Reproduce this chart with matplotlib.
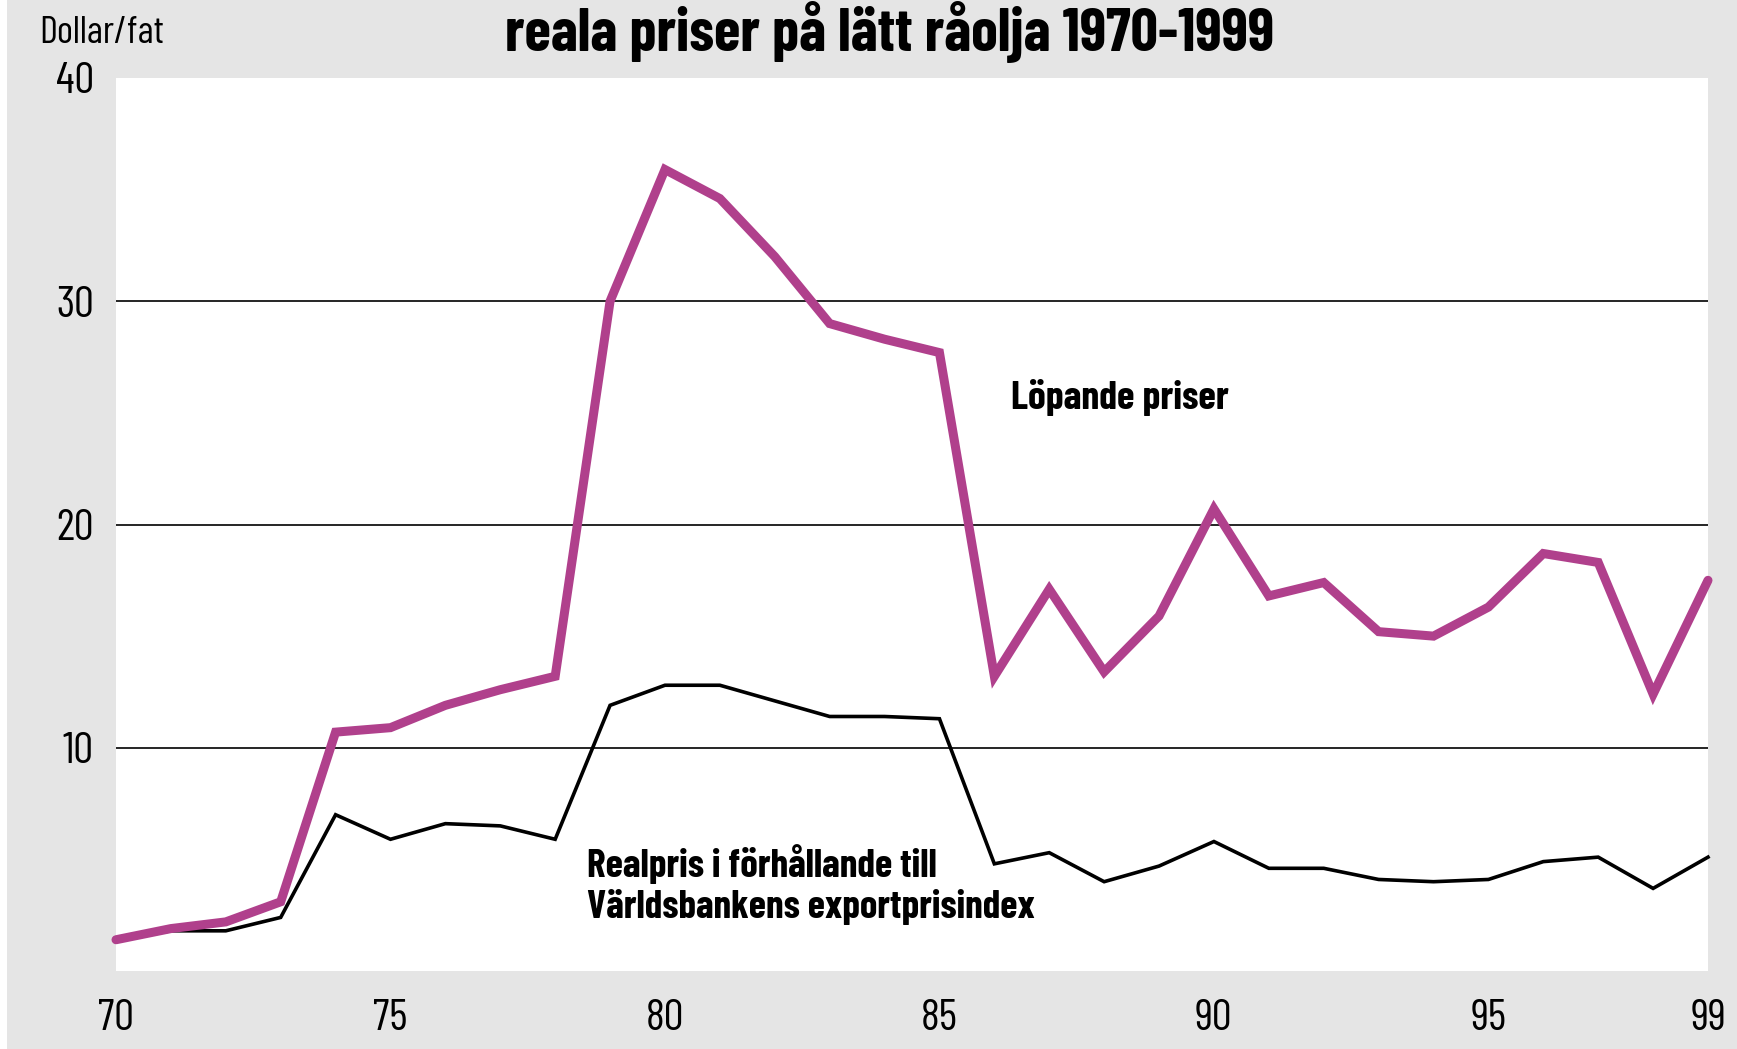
import matplotlib
matplotlib.use("Agg")
import matplotlib.pyplot as plt
from matplotlib.patches import Rectangle

years = list(range(1970, 2000))
lopande = [1.4, 1.9, 2.2, 3.1, 10.7, 10.9, 11.9, 12.6, 13.2, 30.0,
           35.9, 34.6, 32.0, 29.0, 28.3, 27.7, 13.2, 17.1, 13.4, 15.9,
           20.7, 16.8, 17.4, 15.2, 15.0, 16.3, 18.7, 18.3, 12.4, 17.5]
realpris = [1.4, 1.8, 1.8, 2.4, 7.0, 5.9, 6.6, 6.5, 5.9, 11.9,
            12.8, 12.8, 12.1, 11.4, 11.4, 11.3, 4.8, 5.3, 4.0, 4.7,
            5.8, 4.6, 4.6, 4.1, 4.0, 4.1, 4.9, 5.1, 3.7, 5.1]
xticks = [1970, 1975, 1980, 1985, 1990, 1995, 1999]
xticklabels = ["70", "75", "80", "85", "90", "95", "99"]
yticks = [10, 20, 30, 40]

FONT = ['Barlow Condensed', 'DejaVu Sans']
plt.rcParams['font.family'] = FONT

W, H = 1737, 1049
fig = plt.figure(figsize=(W / 100, H / 100), dpi=100, facecolor='#e5e5e5')
fig.patches.append(Rectangle((0, 0), 7 / W, 1, transform=fig.transFigure,
                             facecolor='white', edgecolor='none', zorder=0))

ax = fig.add_axes([116 / W, 1 - 971 / H, (1708 - 116) / W, (971 - 78) / H])
ax.set_facecolor('white')
ax.set_xlim(1970.2, 1998.95)
ax.set_ylim(0, 40)
for s in ax.spines.values():
    s.set_visible(False)

for y in [10, 20, 30]:
    ax.axhline(y, color='black', lw=1.2, zorder=1)

ax.plot(years, realpris, color='black', lw=2.6, zorder=3, clip_on=False,
        solid_joinstyle='miter')
ax.plot(years, lopande, color='#b0408c', lw=6.5, zorder=4, clip_on=False,
        solid_capstyle='round', solid_joinstyle='miter')

ax.set_xticks(xticks)
ax.set_xticklabels(xticklabels, fontsize=32, fontweight='normal')
ax.set_yticks(yticks)
ax.set_yticklabels([str(v) for v in yticks], fontsize=32, fontweight='normal')
ax.tick_params(axis='both', length=0, colors='black')
ax.tick_params(axis='x', pad=20)
ax.tick_params(axis='y', pad=16)

fig.canvas.draw()
renderer = fig.canvas.get_renderer()


def fit(t, target_w):
    bb = t.get_window_extent(renderer)
    t.set_fontsize(t.get_fontsize() * target_w / bb.width)


t1 = fig.text(39 / W, 1 - 43 / H, "Dollar/fat", fontsize=30,
              fontweight='normal', ha='left', va='baseline')
fit(t1, 125)
t2 = fig.text(890 / W, 1 - 51 / H, "reala priser på lätt råolja 1970-1999",
              fontsize=40, fontweight='bold', ha='center', va='baseline')
fit(t2, 769)
t3 = fig.text(1011 / W, 1 - 409 / H, "Löpande priser", fontsize=30,
              fontweight='bold', ha='left', va='baseline')
fit(t3, 218)
t4 = fig.text(587 / W, 1 - 877 / H, "Realpris i förhållande till", fontsize=30,
              fontweight='bold', ha='left', va='baseline')
fit(t4, 350)
t5 = fig.text(587 / W, 1 - 918 / H, "Världsbankens exportprisindex", fontsize=30,
              fontweight='bold', ha='left', va='baseline')
fit(t5, 448)

fig.savefig("out.png", dpi=100, facecolor=fig.get_facecolor())
